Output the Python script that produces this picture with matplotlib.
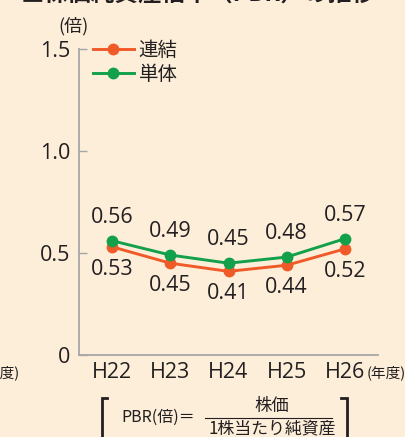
import matplotlib
matplotlib.use("Agg")
import matplotlib.pyplot as plt
from matplotlib.lines import Line2D

plt.rcParams['font.family'] = ['Noto Sans CJK JP', 'DejaVu Sans']
NUMFONT = ['Open Sans', 'Noto Sans CJK JP']

years = ["H22", "H23", "H24", "H25", "H26"]
consolidated = [0.53, 0.45, 0.41, 0.44, 0.52]
standalone = [0.56, 0.49, 0.45, 0.48, 0.57]
yticks = [0, 0.5, 1.0, 1.5]
ytick_labels = ["0", "0.5", "1.0", "1.5"]
series_names = ["連結", "単体"]

BG = "#FDEEDA"
RED = "#F05A28"
GREEN = "#12A04B"
AX = "#A6A6A6"
TXT = "#231F20"

W, H = 405, 437
fig = plt.figure(figsize=(W / 100, H / 100), dpi=100, facecolor=BG)

def fx(px):
    return px / W

def fy(py):
    return 1 - py / H

ax = fig.add_axes([fx(79), fy(355), fx(378) - fx(79), fy(49) - fy(355)])
ax.set_facecolor(BG)
x = list(range(len(years)))
ax.plot(x, consolidated, color=RED, lw=2.1, marker='o', ms=7.5, zorder=3)
ax.plot(x, standalone, color=GREEN, lw=2.1, marker='o', ms=7.5, zorder=3)

for xi, v in zip(x, standalone):
    ax.annotate(f"{v:.2f}", (xi, v), xytext=(0, 17), textcoords='offset points',
                ha='center', va='center', fontsize=15.5, color=TXT, family=NUMFONT)
for xi, v in zip(x, consolidated):
    ax.annotate(f"{v:.2f}", (xi, v), xytext=(0, -16), textcoords='offset points',
                ha='center', va='center', fontsize=15.5, color=TXT, family=NUMFONT)

ax.set_xlim(-0.57, 4.57)
ax.set_ylim(0, 1.5)
ax.set_xticks(x)
ax.set_xticklabels(years, fontsize=15.5, color=TXT, family=NUMFONT)
ax.set_yticks(yticks)
ax.set_yticklabels(ytick_labels, fontsize=15.5, color=TXT, family=NUMFONT)
ax.tick_params(axis='y', direction='in', length=6, width=1, color=AX, pad=6)
ax.tick_params(axis='x', length=0, pad=5)
for s in ['top', 'right']:
    ax.spines[s].set_visible(False)
for s in ['left', 'bottom']:
    ax.spines[s].set_color(AX)
    ax.spines[s].set_linewidth(1.3)

# legend
handles = [Line2D([], [], color=RED, lw=2.1, marker='o', ms=7.5),
           Line2D([], [], color=GREEN, lw=2.1, marker='o', ms=7.5)]
leg = ax.legend(handles, series_names, loc='upper left',
                bbox_to_anchor=((93 - 79) / (378 - 79), 1.03),
                bbox_transform=ax.transAxes, frameon=False, fontsize=14,
                handlelength=2.1, handletextpad=0.25, labelspacing=0.15,
                borderaxespad=0, borderpad=0)
for t in leg.get_texts():
    t.set_color(TXT)

# texts
fig.text(fx(74), fy(26), "(倍)", ha='center', va='center', fontsize=13, color=TXT)
fig.text(fx(367), fy(373), "(年度)", ha='left', va='center', fontsize=10.5, color=TXT)
fig.text(fx(-19), fy(373), "(年度)", ha='left', va='center', fontsize=10.5, color=TXT)
fig.text(fx(198), fy(-6), "■株価純資産倍率（PBR）の推移", ha='center', va='center',
         fontsize=17, fontweight='bold', color=TXT)

# formula
fig.text(fx(121), fy(417), "PBR(倍)＝", ha='left', va='center', fontsize=11.5, color=TXT)
fig.text(fx(272), fy(406), "株価", ha='center', va='center', fontsize=12.5, color=TXT)
fig.text(fx(272), fy(428), "1株当たり純資産", ha='center', va='center', fontsize=12.2, color=TXT)
fig.add_artist(Line2D([fx(205), fx(332)], [fy(418), fy(418)], color=TXT, lw=0.8))
# brackets
fig.add_artist(Line2D([fx(107), fx(101.5), fx(101.5)], [fy(398), fy(398), fy(440)],
                      color=TXT, lw=2.0, solid_joinstyle='miter'))
fig.add_artist(Line2D([fx(341), fx(346.5), fx(346.5)], [fy(398), fy(398), fy(440)],
                      color=TXT, lw=2.0, solid_joinstyle='miter'))

fig.savefig("out.png", dpi=100, facecolor=BG)
